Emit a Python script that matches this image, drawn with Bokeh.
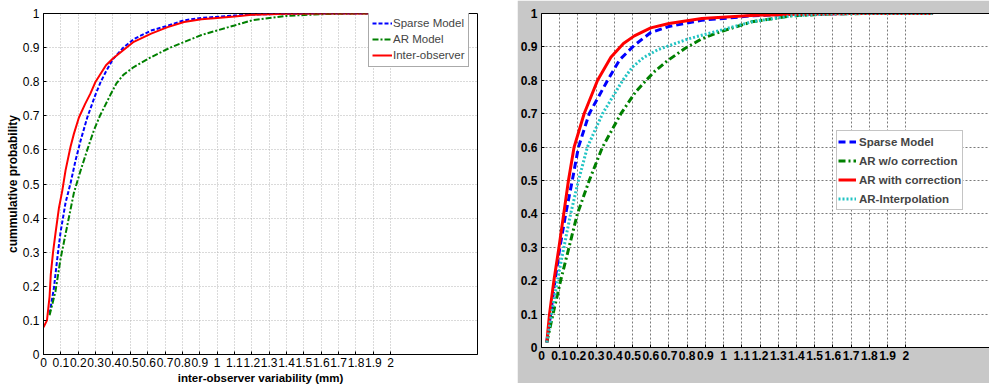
from bokeh.plotting import figure
from bokeh.layouts import row
from bokeh.models import (Range1d, FixedTicker, Legend, LegendItem, LinearAxis)
from bokeh.embed import file_html
from bokeh.resources import INLINE

# ---------------- data ----------------
x_ticks = [0, 0.1, 0.2, 0.3, 0.4, 0.5, 0.6, 0.7, 0.8, 0.9, 1.0,
           1.1, 1.2, 1.3, 1.4, 1.5, 1.6, 1.7, 1.8, 1.9, 2.0]
x_tick_labels = ["0", "0.1", "0.2", "0.3", "0.4", "0.5", "0.6", "0.7", "0.8", "0.9", "1",
                 "1.1", "1.2", "1.3", "1.4", "1.5", "1.6", "1.7", "1.8", "1.9", "2"]
y_ticks = [0, 0.1, 0.2, 0.3, 0.4, 0.5, 0.6, 0.7, 0.8, 0.9, 1.0]
y_tick_labels = ["0", "0.1", "0.2", "0.3", "0.4", "0.5", "0.6", "0.7", "0.8", "0.9", "1"]

# left panel: cumulative distributions of inter-observer variability
sparse_l_x = [0.035, 0.06, 0.079, 0.098, 0.127, 0.156, 0.185, 0.214, 0.252, 0.30, 0.33,
              0.36, 0.40, 0.46, 0.52, 0.62, 0.72, 0.81, 0.91, 1.1, 1.2, 1.4, 1.6, 2.0]
sparse_l_y = [0.12, 0.195, 0.28, 0.358, 0.445, 0.503, 0.57, 0.628, 0.695, 0.763, 0.80,
              0.83, 0.866, 0.90, 0.925, 0.95, 0.965, 0.98, 0.987, 0.994, 0.997, 0.999, 1.0, 1.0]

ar_l_x = [0.035, 0.069, 0.098, 0.137, 0.175, 0.214, 0.252, 0.29, 0.325, 0.387, 0.42, 0.46,
          0.52, 0.62, 0.73, 0.91, 1.1, 1.2, 1.4, 1.6, 1.8, 2.0]
ar_l_y = [0.115, 0.185, 0.28, 0.378, 0.474, 0.54, 0.60, 0.657, 0.70, 0.763, 0.795, 0.82,
          0.843, 0.872, 0.90, 0.937, 0.965, 0.98, 0.993, 0.998, 1.0, 1.0]

inter_l_x = [0.0, 0.02, 0.035, 0.042, 0.055, 0.069, 0.089, 0.108, 0.127, 0.156, 0.175, 0.204,
             0.24, 0.27, 0.30, 0.36, 0.40, 0.52, 0.62, 0.715, 0.81, 0.91, 1.0, 1.1, 1.2,
             1.4, 1.6, 2.0]
inter_l_y = [0.08, 0.10, 0.17, 0.235, 0.30, 0.355, 0.43, 0.48, 0.54, 0.61, 0.647, 0.695,
             0.735, 0.765, 0.80, 0.848, 0.868, 0.917, 0.941, 0.96, 0.975, 0.983, 0.987, 0.991,
             0.996, 0.999, 1.0, 1.0]

# right panel
sparse_r_x = [0.029, 0.05, 0.074, 0.101, 0.133, 0.169, 0.203, 0.262, 0.363, 0.43, 0.51,
              0.60, 0.70, 0.88, 1.06, 1.15, 1.4, 1.7, 2.15]
sparse_r_y = [0.015, 0.1, 0.2, 0.3, 0.4, 0.5, 0.6, 0.7, 0.8, 0.862, 0.905,
              0.943, 0.961, 0.98, 0.988, 0.993, 0.998, 1.0, 1.0]

arwo_r_x = [0.029, 0.063, 0.105, 0.151, 0.197, 0.262, 0.335, 0.436, 0.515, 0.575, 0.62,
            0.69, 0.787, 0.879, 0.97, 1.154, 1.37, 1.6, 1.8, 2.15]
arwo_r_y = [0.015, 0.1, 0.2, 0.3, 0.4, 0.5, 0.6, 0.7, 0.764, 0.80, 0.826,
            0.858, 0.895, 0.924, 0.943, 0.975, 0.993, 0.999, 1.0, 1.0]

arwith_r_x = [0.029, 0.044, 0.068, 0.096, 0.122, 0.148, 0.179, 0.234, 0.308, 0.381, 0.45,
              0.51, 0.60, 0.70, 0.88, 1.06, 1.15, 1.4, 1.7, 2.15]
arwith_r_y = [0.015, 0.1, 0.2, 0.3, 0.4, 0.5, 0.6, 0.7, 0.8, 0.869, 0.91,
              0.933, 0.957, 0.97, 0.985, 0.991, 0.994, 0.998, 1.0, 1.0]

interp_r_x = [0.029, 0.055, 0.087, 0.123, 0.16, 0.203, 0.252, 0.335, 0.446, 0.50, 0.56,
              0.64, 0.806, 1.06, 1.154, 1.37, 1.6, 1.8, 2.15]
interp_r_y = [0.015, 0.1, 0.2, 0.3, 0.4, 0.5, 0.6, 0.7, 0.8, 0.84, 0.868,
              0.892, 0.924, 0.961, 0.975, 0.993, 0.999, 1.0, 1.0]

FONT = "Liberation Sans"
x_overrides = dict(zip(x_ticks, x_tick_labels))
y_overrides = dict(zip(y_ticks, y_tick_labels))


def style_axes(p, bold, grid_color, grid_dash):
    for ax in (p.xaxis[0], p.yaxis[0]):
        ax.major_tick_in = 3
        ax.major_tick_out = 0
        ax.minor_tick_line_color = None
        ax.major_label_text_font = FONT
        ax.major_label_text_font_size = "12px"
        ax.major_label_text_font_style = "bold" if bold else "normal"
        ax.major_label_text_color = "black"
        ax.axis_line_color = "black"
        ax.major_tick_line_color = "black"
        ax.axis_label_text_font = FONT
        ax.axis_label_text_font_size = "11.5px"
        ax.axis_label_text_font_style = "bold"
        ax.axis_label_text_color = "black"
    p.xaxis[0].ticker = FixedTicker(ticks=x_ticks)
    p.yaxis[0].ticker = FixedTicker(ticks=y_ticks)
    p.xaxis[0].major_label_overrides = x_overrides
    p.yaxis[0].major_label_overrides = y_overrides
    p.xaxis[0].major_label_standoff = 3
    p.yaxis[0].major_label_standoff = 4
    p.grid.grid_line_color = grid_color
    p.grid.grid_line_dash = grid_dash
    p.grid.grid_line_width = 1


# ---------------- left panel ----------------
p1 = figure(width=517, height=390, output_backend="svg", toolbar_location=None, tools="",
            x_range=Range1d(0, 2.5), y_range=Range1d(0, 1),
            min_border_left=43, min_border_right=40, min_border_top=8, min_border_bottom=36)
p1.background_fill_color = "white"
p1.border_fill_color = "white"
p1.outline_line_color = "black"
p1.outline_line_width = 1
p1.xaxis.axis_label = "inter-observer variability (mm)"
p1.yaxis.axis_label = "cummulative probability"
style_axes(p1, False, "#b4b4b4", "1 2")
p1.yaxis.axis_label_text_font_size = "12px"
p1.xaxis.axis_label_standoff = 2
p1.yaxis.axis_label_standoff = 0

l_sparse = p1.line(sparse_l_x, sparse_l_y, color="#0000ff", line_width=2, line_dash="4 2")
l_ar = p1.line(ar_l_x, ar_l_y, color="#008000", line_width=2, line_dash="6 2 2 2")
l_inter = p1.line(inter_l_x, inter_l_y, color="#ff0000", line_width=2)

leg1 = Legend(items=[LegendItem(label="Sparse Model", renderers=[l_sparse]),
                     LegendItem(label="AR Model", renderers=[l_ar]),
                     LegendItem(label="Inter-observer", renderers=[l_inter])],
              location=(325, 287), orientation="vertical",
              glyph_width=20, glyph_height=16, label_height=16, label_standoff=1,
              padding=3, spacing=0, margin=0,
              label_text_font=FONT, label_text_font_size="11.5px",
              border_line_color="#555555", border_line_width=1,
              background_fill_color="white", background_fill_alpha=1)
p1.add_layout(leg1, "center")

# ---------------- right panel ----------------
p2 = figure(width=472, height=383, output_backend="svg", toolbar_location=None, tools="",
            x_range=Range1d(0, 2.46), y_range=Range1d(0, 1),
            min_border_left=23, min_border_right=0, min_border_top=13, min_border_bottom=16)
p2.background_fill_color = "white"
p2.border_fill_color = "#c8c8c8"
p2.outline_line_color = None
style_axes(p2, True, "#7a7a7a", "2 2")

top_axis = LinearAxis(major_label_text_font_size="0px", major_tick_line_color=None,
                      minor_tick_line_color=None, axis_line_color="black",
                      ticker=FixedTicker(ticks=[]))
p2.add_layout(top_axis, "above")
p2.min_border_top = 13

r_sparse = p2.line(sparse_r_x, sparse_r_y, color="#0000ff", line_width=3, line_dash="7 4")
r_arwo = p2.line(arwo_r_x, arwo_r_y, color="#008000", line_width=3, line_dash="7 3 2 3")
r_arwith = p2.line(arwith_r_x, arwith_r_y, color="#ff0000", line_width=3)
r_interp = p2.line(interp_r_x, interp_r_y, color="#22c4c4", line_width=3, line_dash="2 2")

leg2 = Legend(items=[LegendItem(label="Sparse Model", renderers=[r_sparse]),
                     LegendItem(label="AR w/o correction", renderers=[r_arwo]),
                     LegendItem(label="AR with correction", renderers=[r_arwith]),
                     LegendItem(label="AR-Interpolation", renderers=[r_interp])],
              location=(295, 137), orientation="vertical",
              glyph_width=18, glyph_height=19, label_height=19, label_standoff=3,
              padding=1, spacing=0, margin=0,
              label_text_font=FONT, label_text_font_size="11.5px",
              label_text_font_style="bold",
              border_line_color="#8a8a8a", border_line_width=1,
              background_fill_color="white", background_fill_alpha=1)
p2.add_layout(leg2, "center")

layout = row(p1, p2)
open("out.html", "w").write(file_html(layout, INLINE))
